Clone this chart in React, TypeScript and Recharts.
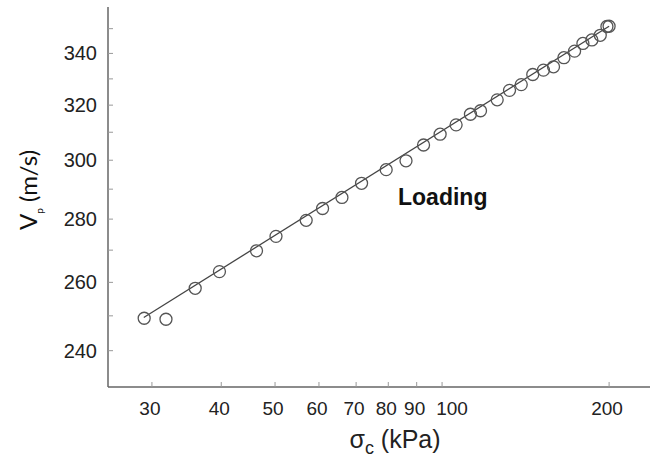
import { Scatter, ScatterChart, XAxis, YAxis } from 'recharts';

// confining stress (kPa) vs P-wave velocity (m/s), loading branch
const stress = [
  29.05, 31.8, 35.9, 39.7, 46.3, 50.2, 56.9, 60.9, 66.0, 71.6, 79.3, 86.1, 92.6, 99.2, 106.0,
  112.5, 117.3, 125.7, 132.3, 138.9, 145.7, 152.3, 158.8, 165.8, 173.3, 179.4, 186.2, 192.8,
  198.2, 200
];
const velocity = [
  249.3, 249.0, 258.2, 263.3, 269.8, 274.4, 279.6, 283.5, 287.2, 292.0, 296.7, 299.8, 305.4,
  309.3, 312.7, 316.6, 317.9, 322.0, 325.6, 327.8, 331.7, 333.4, 334.7, 338.3, 340.9, 344.0,
  345.4, 347.3, 350.9, 351.0
];
// power-law fit, drawn as a straight line in log-log space
const fitStress = [29, 200];
const fitVelocity = [249.5, 351];

const xTicks = [30, 40, 50, 60, 70, 80, 90, 100, 200];
const yTicks = [240, 250, 260, 270, 280, 290, 300, 310, 320, 330, 340, 350];
const yLabeled = [240, 260, 280, 300, 320, 340];

const points = stress.map((s, i) => ({ s, v: velocity[i] }));
const fit = fitStress.map((s, i) => ({ s, v: fitVelocity[i] }));

const tickFont = '"Liberation Sans", Arial, sans-serif';

const XTick = ({ x, y, payload }: any) => (
  <g>
    <line x1={x} y1={y} x2={x} y2={y - 5} stroke="#999" strokeWidth={1} />
    <text
      x={x + (payload.value === 100 ? 10 : -2)}
      y={y + 21}
      textAnchor="middle"
      dominantBaseline="central"
      fontSize={19}
      fontFamily={tickFont}
      fill="#222"
    >
      {payload.value}
    </text>
  </g>
);

const YTick = ({ x, y, payload }: any) => (
  <g>
    <line x1={x} y1={y} x2={x + 5} y2={y} stroke="#999" strokeWidth={1} />
    {yLabeled.includes(payload.value) && (
      <text
        x={x - 11}
        y={y}
        textAnchor="end"
        dominantBaseline="central"
        fontSize={20}
        fontFamily={tickFont}
        fill="#222"
      >
        {payload.value}
      </text>
    )}
  </g>
);

const Ring = ({ cx, cy }: any) => (
  <circle cx={cx} cy={cy} r={6} fill="none" stroke="#555" strokeWidth={1.3} />
);

export default function App() {
  return (
    <div style={{ position: 'absolute', left: 0, top: 0, width: 651, height: 463, background: '#fff' }}>
      <ScatterChart width={651} height={463} margin={{ top: 7, right: 1, bottom: 36, left: 48 }}>
        <XAxis
          type="number"
          dataKey="s"
          scale="log"
          domain={[25, 237]}
          allowDataOverflow
          ticks={xTicks}
          interval={0}
          height={40}
          tickSize={0}
          tickMargin={0}
          tickLine={false}
          tick={<XTick />}
          axisLine={{ stroke: '#666', strokeWidth: 1.5 }}
        />
        <YAxis
          type="number"
          dataKey="v"
          scale="log"
          domain={[230, 359]}
          allowDataOverflow
          ticks={yTicks}
          interval={0}
          width={60}
          tickSize={0}
          tickMargin={0}
          tickLine={false}
          tick={<YTick />}
          axisLine={{ stroke: '#666', strokeWidth: 1.5 }}
        />
        <Scatter
          data={fit}
          line={{ stroke: '#444', strokeWidth: 1.3 }}
          shape={() => <g />}
          isAnimationActive={false}
        />
        <Scatter data={points} shape={<Ring />} isAnimationActive={false} />
      </ScatterChart>
      <div
        style={{
          position: 'absolute',
          left: 398,
          top: 184,
          fontFamily: tickFont,
          fontWeight: 'bold',
          fontSize: 23,
          color: '#111'
        }}
      >
        Loading
      </div>
      <div
        style={{
          position: 'absolute',
          left: 29,
          top: 190,
          transform: 'translate(-50%, -50%) rotate(-90deg)',
          whiteSpace: 'nowrap',
          fontFamily: 'Lato, "Open Sans", sans-serif',
          fontSize: 24,
          color: '#111'
        }}
      >
        V<sub style={{ fontSize: 10 }}>p</sub> (m/s)
      </div>
      <div
        style={{
          position: 'absolute',
          left: 395,
          top: 442,
          transform: 'translate(-50%, -50%)',
          whiteSpace: 'nowrap',
          fontFamily: tickFont,
          fontSize: 25,
          color: '#222'
        }}
      >
        σ<sub style={{ fontSize: 18 }}>c</sub> (kPa)
      </div>
    </div>
  );
}
